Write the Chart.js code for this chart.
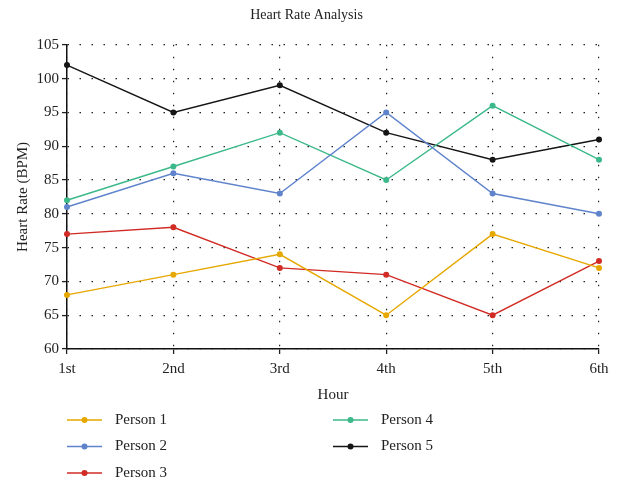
<!DOCTYPE html>
<html>
<head>
<meta charset="utf-8">
<script src="https://cdn.jsdelivr.net/npm/chart.js"></script>
<style>
  html, body { margin: 0; padding: 0; background: #fff; }
  #wrap { width: 618px; height: 481px; }
</style>
</head>
<body>
<div id="wrap"><canvas id="hrChart" width="618" height="481"></canvas></div>
<script>
const hours = ['1st', '2nd', '3rd', '4th', '5th', '6th'];
const person1 = [68, 71, 74, 65, 77, 72];
const person2 = [81, 86, 83, 95, 83, 80];
const person3 = [77, 78, 72, 71, 65, 73];
const person4 = [82, 87, 92, 85, 96, 88];
const person5 = [102, 95, 99, 92, 88, 91];
const seriesNames = ['Person 1', 'Person 2', 'Person 3', 'Person 4', 'Person 5'];
const seriesColors = ['#e6a800', '#5f84cc', '#d12b25', '#3cb98a', '#151515'];

const serif = "'Liberation Serif', 'DejaVu Serif', serif";

const datasets = [person1, person2, person3, person4, person5].map((vals, i) => ({
  label: seriesNames[i],
  data: vals,
  borderColor: seriesColors[i],
  backgroundColor: seriesColors[i],
  borderWidth: 1.4,
  pointRadius: 3,
  pointHoverRadius: 3,
  pointBorderWidth: 0,
  tension: 0
}));

// legend in two columns under the chart
const bottomLegend = {
  id: 'bottomLegend',
  afterDraw(chart) {
    const ctx = chart.ctx;
    ctx.save();
    ctx.font = '15px ' + serif;
    ctx.textBaseline = 'middle';
    ctx.textAlign = 'left';
    chart.data.datasets.forEach((ds, i) => {
      const col = i < 3 ? 0 : 1;
      const row = i < 3 ? i : i - 3;
      const x0 = col === 0 ? 67 : 333;
      const y = 420 + row * 26.5;
      ctx.strokeStyle = ds.borderColor;
      ctx.lineWidth = 1.6;
      ctx.beginPath();
      ctx.moveTo(x0, y);
      ctx.lineTo(x0 + 35, y);
      ctx.stroke();
      ctx.fillStyle = ds.borderColor;
      ctx.beginPath();
      ctx.arc(x0 + 17.5, y, 3, 0, Math.PI * 2);
      ctx.fill();
      ctx.fillStyle = '#222';
      ctx.fillText(ds.label, x0 + 48, y);
    });
    ctx.restore();
  }
};

new Chart(document.getElementById('hrChart'), {
  type: 'line',
  data: { labels: hours, datasets: datasets },
  options: {
    responsive: false,
    animation: false,
    layout: { padding: { left: 14, right: 19, top: 0, bottom: 77 } },
    plugins: {
      legend: { display: false },
      tooltip: { enabled: false },
      title: {
        display: true,
        text: 'Heart Rate Analysis',
        color: '#222',
        font: { family: serif, size: 14, weight: 'normal' },
        padding: { top: 7, bottom: 21 }
      }
    },
    scales: {
      x: {
        grid: {
          color: '#222',
          lineWidth: 1.2,
          tickLength: 5,
          tickColor: '#222',
          tickWidth: 1.3
        },
        border: { display: true, color: '#111', width: 1.5, dash: [1.5, 10.5] },
        ticks: {
          color: '#222',
          font: { family: serif, size: 15 },
          padding: 6,
          maxRotation: 0
        },
        title: {
          display: true,
          text: 'Hour',
          color: '#222',
          font: { family: serif, size: 15 },
          padding: { top: 2, bottom: 0 }
        }
      },
      y: {
        min: 60,
        max: 105,
        afterFit(scale) { scale.width = 53; },
        grid: {
          color: '#222',
          lineWidth: 1.2,
          tickLength: 5,
          tickColor: '#222',
          tickWidth: 1.3
        },
        border: { display: true, color: '#111', width: 1.5, dash: [1.5, 10.5] },
        ticks: {
          stepSize: 5,
          color: '#222',
          font: { family: serif, size: 15 },
          padding: 3
        },
        title: {
          display: true,
          text: 'Heart Rate (BPM)',
          color: '#222',
          font: { family: serif, size: 15 },
          padding: { top: 0, bottom: 4 }
        }
      }
    }
  },
  plugins: [bottomLegend]
});
</script>
</body>
</html>
